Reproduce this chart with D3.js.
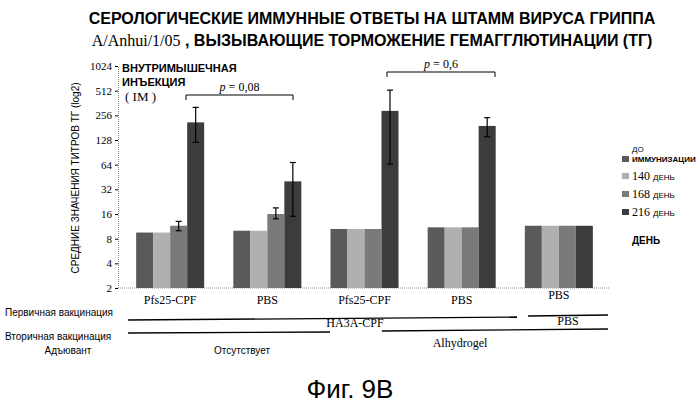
<!DOCTYPE html>
<html><head><meta charset="utf-8">
<script src="https://cdn.jsdelivr.net/npm/d3@7"></script>
<style>body{margin:0;background:#fff}text{font-family:"Liberation Sans",Arial,sans-serif}</style>
</head><body><svg id="chart"></svg>
<script>
const groups = ['g1', 'g2', 'g3', 'g4', 'g5'];
const primary = ['Pfs25-CPF', 'PBS', 'Pfs25-CPF', 'PBS', 'PBS'];
const series = ['ДО ИММУНИЗАЦИИ', '140 ДЕНЬ', '168 ДЕНЬ', '216 ДЕНЬ'];
const values = [
    [9.5, 9.5, 11.5, 210],
    [10, 10, 16, 40],
    [10.5, 10.5, 10.5, 290],
    [11, 11, 11, 190],
    [11.5, 11.5, 11.5, 11.5]
];
const errLow = [[null, null, 10, 120], [null, null, 14, 15], [null, null, null, 65], [null, null, null, 140], [null, null, null, null]];
const errHigh = [[null, null, 13, 320], [null, null, 19, 68], [null, null, null, 520], [null, null, null, 240], [null, null, null, null]];
const yTicks = [2, 4, 8, 16, 32, 64, 128, 256, 512, 1024];
const colors = ['#5a5a5a', '#b0b0b0', '#7a7a7a', '#3c3c3c'];

const svg = d3.select('#chart').attr('width', 699).attr('height', 409);

const x = d3.scaleBand().domain(groups).range([107, 622]).padding(0.3);
const xs = d3.scaleBand().domain(series).range([0, x.bandwidth()]);
const y = d3.scaleLog().base(2).domain([2, 1024]).range([288, 66]);

// title
svg.append('text').attr('x', 372).attr('y', 24).attr('text-anchor', 'middle')
    .style('font-size', '16px').style('font-weight', 'bold')
    .text('СЕРОЛОГИЧЕСКИЕ ИММУННЫЕ ОТВЕТЫ НА ШТАММ ВИРУСА ГРИППА');
const t2 = svg.append('text').attr('x', 372).attr('y', 46).attr('text-anchor', 'middle')
    .style('font-size', '16px').style('font-weight', 'bold');
t2.append('tspan').style('font-family', 'Liberation Serif').style('font-weight', 'normal').text('A/Anhui/1/05');
t2.append('tspan').text(' , ВЫЗЫВАЮЩИЕ ТОРМОЖЕНИЕ ГЕМАГГЛЮТИНАЦИИ (ТГ)');

// axes
const yAxis = d3.axisLeft(y).tickValues(yTicks).tickFormat(d3.format('d')).tickSize(3);
const yg = svg.append('g').attr('transform', 'translate(118,0)').call(yAxis);
yg.select('.domain').attr('stroke', '#888').attr('stroke-dasharray', '1,1');
yg.selectAll('text').style('font-family', 'Liberation Serif').style('font-size', '11px');
svg.append('line').attr('x1', 118).attr('x2', 610).attr('y1', y(2)).attr('y2', y(2))
    .attr('stroke', '#888').attr('stroke-dasharray', '1,1');
svg.append('text').attr('transform', 'translate(79,178) rotate(-90)').attr('text-anchor', 'middle')
    .style('font-size', '10px').text('СРЕДНИЕ ЗНАЧЕНИЯ ТИТРОВ ТГ (log2)');

// bars
const gs = svg.selectAll('.grp').data(values).join('g')
    .attr('transform', (d, i) => `translate(${x(groups[i])},0)`);
gs.selectAll('rect').data(d => d).join('rect')
    .attr('x', (d, j) => xs(series[j]))
    .attr('width', xs.bandwidth())
    .attr('y', d => y(d))
    .attr('height', d => y(2) - y(d))
    .attr('fill', (d, j) => colors[j]);

// error bars
values.forEach((row, i) => row.forEach((v, j) => {
    if (errLow[i][j] == null) return;
    const cx = x(groups[i]) + xs(series[j]) + xs.bandwidth() / 2;
    const g = svg.append('g').attr('stroke', '#000').attr('stroke-width', 1.2);
    g.append('line').attr('x1', cx).attr('x2', cx).attr('y1', y(errLow[i][j])).attr('y2', y(errHigh[i][j]));
    [errLow[i][j], errHigh[i][j]].forEach(e => g.append('line').attr('x1', cx - 3).attr('x2', cx + 3).attr('y1', y(e)).attr('y2', y(e)));
}));

// inner labels
svg.append('text').attr('x', 122).attr('y', 72).style('font-size', '11px').style('font-weight', 'bold').text('ВНУТРИМЫШЕЧНАЯ');
svg.append('text').attr('x', 122).attr('y', 86).style('font-size', '11px').style('font-weight', 'bold').text('ИНЪЕКЦИЯ');
svg.append('text').attr('x', 125).attr('y', 101).style('font-size', '13px').style('font-family', 'Liberation Serif').text('( IM )');

function bracket(x1, x2, yy, label) {
    svg.append('path').attr('d', `M${x1},${yy + 5}V${yy}H${x2}V${yy + 5}`).attr('fill', 'none').attr('stroke', '#000');
    const t = svg.append('text').attr('x', (x1 + x2) / 2).attr('y', yy - 4).attr('text-anchor', 'middle')
        .style('font-family', 'Liberation Serif').style('font-size', '12px');
    t.append('tspan').style('font-style', 'italic').text('p');
    t.append('tspan').text(' = ' + label);
}
bracket(186, 293, 95, '0,08');
bracket(387, 495, 72, '0,6');

// legend
const lg = svg.append('g').style('font-size', '8px');
[160, 177, 195, 213].forEach((ly, j) => {
    lg.append('rect').attr('x', 622).attr('y', ly - 4).attr('width', 7).attr('height', 6).attr('fill', colors[j]);
});
lg.append('text').attr('x', 632).attr('y', 152).text('ДО');
lg.append('text').attr('x', 632).attr('y', 162).style('font-weight', 'bold').text('ИММУНИЗАЦИИ');
['140', '168', '216'].forEach((n, k) => {
    const t = lg.append('text').attr('x', 632).attr('y', [180, 198, 216][k]);
    t.append('tspan').style('font-family', 'Liberation Serif').style('font-size', '12px').text(n + ' ');
    t.append('tspan').text('ДЕНЬ');
});
svg.append('text').attr('x', 632).attr('y', 244).style('font-size', '10px').style('font-weight', 'bold').text('ДЕНЬ');

// bottom table
const serif = s => s.style('font-family', 'Liberation Serif').style('font-size', '12px').attr('text-anchor', 'middle');
primary.forEach((p, i) => {
    svg.append('text').attr('x', x(groups[i]) + x.bandwidth() / 2).attr('y', i === 4 ? 299 : 304).call(serif).text(p);
});
const lines = [[128, 320, 517, 317], [528, 316, 608, 315], [128, 333, 330, 332], [382, 331, 608, 329]];
lines.forEach(l => svg.append('line').attr('x1', l[0]).attr('y1', l[1]).attr('x2', l[2]).attr('y2', l[3]).attr('stroke', '#000').attr('stroke-width', 1.3));
svg.append('text').attr('x', 355).attr('y', 327).call(serif).text('HA3A-CPF');
svg.append('text').attr('x', 568).attr('y', 325).call(serif).text('PBS');
svg.append('text').attr('x', 460).attr('y', 347).call(serif).text('Alhydrogel');
const lab = (tx, ty, s, a) => svg.append('text').attr('x', tx).attr('y', ty).attr('text-anchor', a).style('font-size', '10px').text(s);
lab(5, 316, 'Первичная вакцинация', 'start');
lab(5, 340, 'Вторичная вакцинация', 'start');
lab(68, 354, 'Адъювант', 'middle');
lab(242, 354, 'Отсутствует', 'middle');

svg.append('text').attr('x', 350).attr('y', 398).attr('text-anchor', 'middle').style('font-size', '26px').text('Фиг. 9B');
</script></body></html>
